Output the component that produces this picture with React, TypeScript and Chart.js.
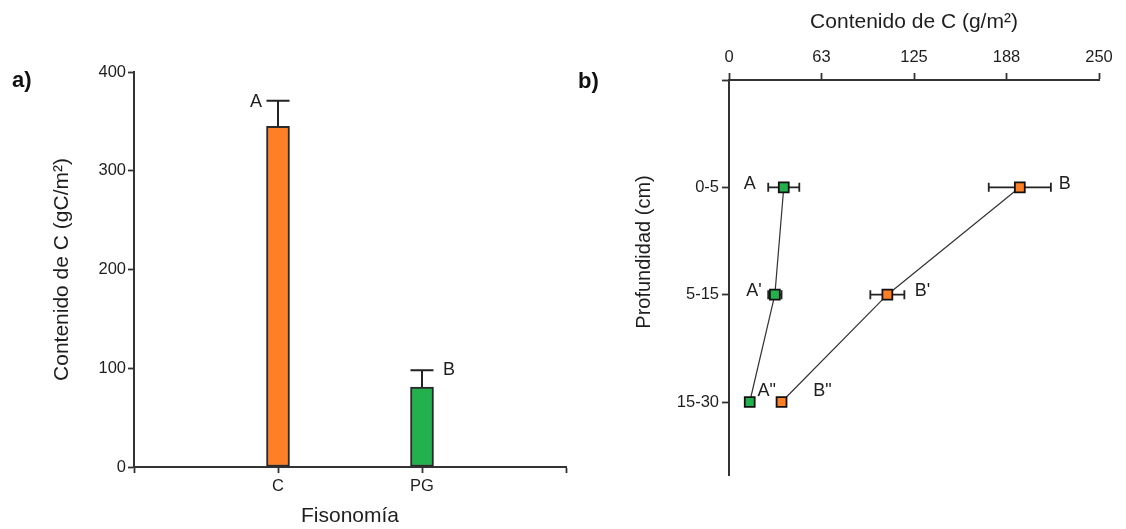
import React, { useEffect, useRef } from 'react';
import { Chart, registerables } from 'chart.js';

Chart.register(...registerables);

const FONT = "'Liberation Sans', Arial, sans-serif";
const TEXT = '#1e1e1e';
const AXIS = '#333333';

// ---------- Panel a ----------
const fisonomias = ['C', 'PG'];
const fisonomiaPos = [1, 2];
const contenidoC = [345, 81];
const contenidoCErr = [26, 17];
const letrasA = ['A', 'B'];
const barColors = ['#FF7F27', '#22B14C'];
const xRangeA = [0, 3];
const yMaxA = 400;
const yStepA = 100;

// ---------- Panel b ----------
const profundidades = ['0-5', '5-15', '15-30'];
const profPos = [1, 2, 3];
const verdeC = [37, 31, 14];
const verdeErr = [10.5, 4.5, 2];
const naranjaC = [196.5, 107, 35.5];
const naranjaErr = [21, 11.5, 2];
const letrasVerde = ['A', "A'", 'A"'];
const letrasNaranja = ['B', "B'", 'B"'];
const topTickValues = [0, 62.5, 125, 187.5, 250];
const topTickLabels = ['0', '63', '125', '188', '250'];
const yMaxB = 3.68;

// label offsets (pixels) — layout only
const offsA = [
  [-22, 1],
  [27, 0],
];
const offsVerde = [
  [-34, -3],
  [-21, -4],
  [17, -11],
];
const offsNaranja = [
  [45, -3],
  [35, -4],
  [41, -11],
];

const tickFont = { family: FONT, size: 16.5 };
const titleFont = { family: FONT, size: 21 };

const panelAPlugin = {
  id: 'panelA',
  afterDatasetsDraw(chart: any) {
    const { ctx } = chart;
    const xs = chart.scales.x;
    const ys = chart.scales.y;
    ctx.save();
    ctx.strokeStyle = '#222';
    ctx.lineWidth = 2;
    contenidoC.forEach((v, i) => {
      const x = xs.getPixelForValue(fisonomiaPos[i]);
      const y0 = ys.getPixelForValue(v);
      const y1 = ys.getPixelForValue(v + contenidoCErr[i]);
      ctx.beginPath();
      ctx.moveTo(x, y0);
      ctx.lineTo(x, y1);
      ctx.moveTo(x - 11.5, y1);
      ctx.lineTo(x + 11.5, y1);
      ctx.stroke();
      ctx.fillStyle = TEXT;
      ctx.font = `18px ${FONT}`;
      ctx.textAlign = 'center';
      ctx.textBaseline = 'middle';
      ctx.fillText(letrasA[i], x + offsA[i][0], y1 + offsA[i][1]);
    });
    ctx.fillStyle = '#111';
    ctx.font = `bold 22px ${FONT}`;
    ctx.textAlign = 'left';
    ctx.textBaseline = 'alphabetic';
    ctx.fillText('a)', 12, 87);
    ctx.restore();
  },
};

const drawErr = (ctx: any, xs: any, ys: any, vals: number[], errs: number[]) => {
  vals.forEach((v, i) => {
    const y = ys.getPixelForValue(profPos[i]);
    const xa = xs.getPixelForValue(v - errs[i]);
    const xb = xs.getPixelForValue(v + errs[i]);
    ctx.beginPath();
    ctx.moveTo(xa, y);
    ctx.lineTo(xb, y);
    ctx.moveTo(xa, y - 4.5);
    ctx.lineTo(xa, y + 4.5);
    ctx.moveTo(xb, y - 4.5);
    ctx.lineTo(xb, y + 4.5);
    ctx.stroke();
  });
};

const drawLetters = (ctx: any, xs: any, ys: any, vals: number[], letters: string[], offs: number[][]) => {
  vals.forEach((v, i) => {
    const x = xs.getPixelForValue(v);
    const y = ys.getPixelForValue(profPos[i]);
    ctx.fillText(letters[i], x + offs[i][0], y + offs[i][1]);
  });
};

const panelBPlugin = {
  id: 'panelB',
  beforeDatasetsDraw(chart: any) {
    const { ctx } = chart;
    const xs = chart.scales.x;
    const ys = chart.scales.y;
    ctx.save();
    ctx.strokeStyle = '#222';
    ctx.lineWidth = 1.8;
    drawErr(ctx, xs, ys, verdeC, verdeErr);
    drawErr(ctx, xs, ys, naranjaC, naranjaErr);
    ctx.restore();
  },
  afterDatasetsDraw(chart: any) {
    const { ctx } = chart;
    const xs = chart.scales.x;
    const ys = chart.scales.y;
    ctx.save();
    ctx.fillStyle = TEXT;
    ctx.font = `18px ${FONT}`;
    ctx.textAlign = 'center';
    ctx.textBaseline = 'middle';
    drawLetters(ctx, xs, ys, verdeC, letrasVerde, offsVerde);
    drawLetters(ctx, xs, ys, naranjaC, letrasNaranja, offsNaranja);
    ctx.fillStyle = '#111';
    ctx.font = `bold 22px ${FONT}`;
    ctx.textAlign = 'left';
    ctx.textBaseline = 'alphabetic';
    ctx.fillText('b)', 8, 88);
    ctx.fillStyle = TEXT;
    ctx.font = `20px ${FONT}`;
    ctx.translate(74, 252);
    ctx.rotate(-Math.PI / 2);
    ctx.textAlign = 'center';
    ctx.textBaseline = 'middle';
    ctx.fillText('Profundidad (cm)', 0, 0);
    ctx.restore();
  },
};

const gridTicks = (len: number) => ({
  display: true,
  drawOnChartArea: false,
  drawTicks: true,
  tickLength: len,
  tickWidth: 1.8,
  tickColor: AXIS,
  offset: false,
});
const border = { display: true, color: AXIS, width: 2 };

export default function App() {
  const ref1 = useRef<HTMLCanvasElement>(null);
  const ref2 = useRef<HTMLCanvasElement>(null);

  useEffect(() => {
    const c1 = new Chart(ref1.current as HTMLCanvasElement, {
      type: 'bar',
      data: {
        datasets: [
          {
            data: fisonomiaPos.map((p, i) => ({ x: p, y: contenidoC[i] })),
            backgroundColor: barColors,
            borderColor: '#2a2a2a',
            borderWidth: 2,
            borderSkipped: false,
            barThickness: 23,
          } as any,
        ],
      },
      options: {
        responsive: false,
        animation: false,
        devicePixelRatio: 1,
        layout: { padding: { top: 72, right: 14, left: 0, bottom: 0 } },
        plugins: { legend: { display: false }, tooltip: { enabled: false } },
        scales: {
          x: {
            type: 'linear',
            min: xRangeA[0],
            max: xRangeA[1],
            offset: false,
            afterBuildTicks: (s: any) => {
              s.ticks = [xRangeA[0], ...fisonomiaPos, xRangeA[1]].map((v) => ({ value: v }));
            },
            afterFit: (s: any) => {
              s.height = 62;
            },
            ticks: {
              callback: (v: any) => {
                const i = fisonomiaPos.indexOf(Number(v));
                return i >= 0 ? fisonomias[i] : '';
              },
              font: tickFont,
              color: TEXT,
              padding: 4,
              maxRotation: 0,
              autoSkip: false,
            },
            grid: gridTicks(6),
            border,
            title: {
              display: true,
              text: 'Fisonomía',
              font: titleFont,
              color: TEXT,
              padding: { top: 0, bottom: 0 },
            },
          },
          y: {
            type: 'linear',
            min: 0,
            max: yMaxA,
            afterFit: (s: any) => {
              s.width = 134;
            },
            ticks: { stepSize: yStepA, font: tickFont, color: TEXT, padding: 2 },
            grid: gridTicks(6),
            border,
            title: {
              display: true,
              text: 'Contenido de C (gC/m²)',
              font: titleFont,
              color: TEXT,
              padding: { top: 50, bottom: 0 },
            },
          },
        } as any,
      },
      plugins: [panelAPlugin],
    });

    const c2 = new Chart(ref2.current as HTMLCanvasElement, {
      type: 'scatter',
      data: {
        datasets: [
          {
            data: profPos.map((p, i) => ({ x: verdeC[i], y: p })),
            showLine: true,
            borderColor: '#333',
            borderWidth: 1.2,
            pointStyle: 'rect',
            pointRadius: 7,
            pointBackgroundColor: '#22B14C',
            pointBorderColor: '#111',
            pointBorderWidth: 1.8,
          } as any,
          {
            data: profPos.map((p, i) => ({ x: naranjaC[i], y: p })),
            showLine: true,
            borderColor: '#333',
            borderWidth: 1.2,
            pointStyle: 'rect',
            pointRadius: 7,
            pointBackgroundColor: '#FF7F27',
            pointBorderColor: '#111',
            pointBorderWidth: 1.8,
          } as any,
        ],
      },
      options: {
        responsive: false,
        animation: false,
        devicePixelRatio: 1,
        layout: { padding: { top: 0, right: 27, left: 0, bottom: 54 } },
        plugins: { legend: { display: false }, tooltip: { enabled: false } },
        scales: {
          x: {
            type: 'linear',
            position: 'top',
            min: topTickValues[0],
            max: topTickValues[topTickValues.length - 1],
            afterBuildTicks: (s: any) => {
              s.ticks = topTickValues.map((v) => ({ value: v }));
            },
            afterFit: (s: any) => {
              s.height = 80;
            },
            ticks: {
              callback: (v: any) => {
                const i = topTickValues.indexOf(Number(v));
                return i >= 0 ? topTickLabels[i] : '';
              },
              font: tickFont,
              color: TEXT,
              padding: 6,
              maxRotation: 0,
              autoSkip: false,
            },
            grid: gridTicks(7),
            border,
            title: {
              display: true,
              text: 'Contenido de C (g/m²)',
              font: titleFont,
              color: TEXT,
              padding: { top: 10, bottom: 0 },
            },
          },
          y: {
            type: 'linear',
            reverse: true,
            min: 0,
            max: yMaxB,
            afterBuildTicks: (s: any) => {
              s.ticks = [0, ...profPos].map((v) => ({ value: v }));
            },
            afterFit: (s: any) => {
              s.width = 159;
            },
            ticks: {
              callback: (v: any) => {
                const i = profPos.indexOf(Number(v));
                return i >= 0 ? profundidades[i] : '';
              },
              font: tickFont,
              color: TEXT,
              padding: 3,
              autoSkip: false,
            },
            grid: gridTicks(7),
            border,
          },
        } as any,
      },
      plugins: [panelBPlugin],
    });

    return () => {
      c1.destroy();
      c2.destroy();
    };
  }, []);

  return (
    <div style={{ position: 'fixed', left: 0, top: 0, width: 1126, height: 529, background: '#fff' }}>
      <canvas ref={ref1} width={580} height={529} style={{ position: 'absolute', left: 0, top: 0 }} />
      <canvas ref={ref2} width={556} height={529} style={{ position: 'absolute', left: 570, top: 0 }} />
    </div>
  );
}
